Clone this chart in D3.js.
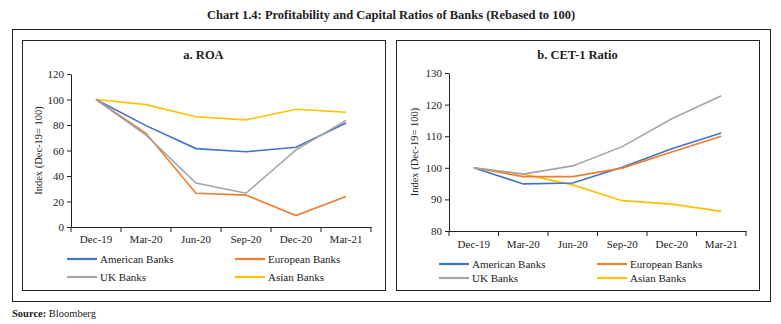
<!DOCTYPE html>
<html>
<head>
<meta charset="utf-8">
<script src="https://cdn.jsdelivr.net/npm/d3@7"></script>
<style>
  body { margin: 0; background: #fff; }
  text { font-family: "Liberation Serif", "DejaVu Serif", serif; fill: #222; }
</style>
</head>
<body>
<div class="chart"></div>
<script>
const quarters = ["Dec-19", "Mar-20", "Jun-20", "Sep-20", "Dec-20", "Mar-21"];
const seriesNames = ["American Banks", "European Banks", "UK Banks", "Asian Banks"];

// a. ROA
const roaAmerican = [100, 79.5, 61.5, 59, 62.5, 81.5];
const roaEuropean = [100, 73.5, 26.5, 25, 9, 24];
const roaUK = [100, 72, 34.5, 26.5, 60.5, 83.5];
const roaAsian = [100, 96, 86.5, 84, 92.3, 90];
const roaTicks = [0, 20, 40, 60, 80, 100, 120];

// b. CET-1 Ratio
const cetAmerican = [100, 94.9, 95.2, 100.2, 106, 111];
const cetEuropean = [100, 97.2, 97.2, 99.9, 105, 110];
const cetUK = [100, 98, 100.6, 106.7, 115.5, 122.8];
const cetAsian = [100, 98, 94.6, 89.6, 88.5, 86.2];
const cetTicks = [80, 90, 100, 110, 120, 130];

const colors = ["#4472C4", "#ED7D31", "#A5A5A5", "#FFC000"];

const width = 781;
const height = 324;

const svg = d3.select(".chart")
    .append("svg")
    .attr("width", width)
    .attr("height", height);

svg.append("text")
    .attr("x", 391)
    .attr("y", 19)
    .attr("text-anchor", "middle")
    .style("font-size", "12.5px")
    .style("font-weight", "bold")
    .text("Chart 1.4: Profitability and Capital Ratios of Banks (Rebased to 100)");

// outer frame
svg.append("rect")
    .attr("x", 12.5).attr("y", 29.5)
    .attr("width", 758).attr("height", 272)
    .style("fill", "none").style("stroke", "#222").style("stroke-width", 1);

svg.append("text")
    .attr("x", 12)
    .attr("y", 317)
    .style("font-size", "10.5px")
    .html("<tspan font-weight='bold'>Source:</tspan> Bloomberg");

function drawPanel(p) {
  const g = svg.append("g");

  g.append("rect")
      .attr("x", p.box[0] + 0.5).attr("y", p.box[1] + 0.5)
      .attr("width", p.box[2]).attr("height", p.box[3])
      .style("fill", "none").style("stroke", "#222").style("stroke-width", 1);

  g.append("text")
      .attr("x", p.box[0] + p.box[2] / 2)
      .attr("y", 59)
      .attr("text-anchor", "middle")
      .style("font-size", "12.5px")
      .style("font-weight", "bold")
      .text(p.title);

  const x = d3.scaleBand()
      .domain(quarters)
      .range([p.x0, p.x1]);

  const y = d3.scaleLinear()
      .domain(p.domain)
      .range([p.yBottom, p.yTop]);

  // y axis
  const yAxis = g.append("g")
      .attr("transform", "translate(" + p.x0 + ",0)")
      .call(d3.axisLeft(y).tickValues(p.ticks).tickSize(4).tickSizeOuter(0));
  yAxis.select(".domain").style("stroke", "#222");
  yAxis.selectAll("line").style("stroke", "#222");
  yAxis.selectAll("text")
      .style("font-size", "11px")
      .style("font-family", "'Liberation Serif', serif")
      .attr("fill", "#222");

  // x axis with ticks between categories
  const xAxis = g.append("g")
      .attr("transform", "translate(0," + p.yBottom + ")")
      .call(d3.axisBottom(x).tickSize(0).tickPadding(p.tickPad));
  xAxis.select(".domain").style("stroke", "#222");
  xAxis.selectAll("text")
      .style("font-size", "11px")
      .style("font-family", "'Liberation Serif', serif")
      .attr("fill", "#222");
  g.selectAll(".xtick")
      .data(d3.range(quarters.length + 1))
      .enter()
      .append("line")
      .attr("x1", function(i) { return p.x0 + i * x.step(); })
      .attr("x2", function(i) { return p.x0 + i * x.step(); })
      .attr("y1", p.yBottom)
      .attr("y2", p.yBottom + 5)
      .style("stroke", "#222");

  // y label
  g.append("text")
      .attr("transform", "translate(" + p.labelX + "," + (p.yTop + p.yBottom) / 2 + ") rotate(-90)")
      .attr("text-anchor", "middle")
      .style("font-size", "10.5px")
      .text("Index (Dec-19= 100)");

  const line = d3.line()
      .x(function(d, i) { return x(quarters[i]) + x.bandwidth() / 2; })
      .y(function(d) { return y(d); });

  // draw so asian is below, grey over orange as in picture
  const order = [3, 0, 1, 2];
  order.forEach(function(k) {
    g.append("path")
        .datum(p.series[k])
        .attr("d", line)
        .style("fill", "none")
        .style("stroke", colors[k])
        .style("stroke-width", 1.6);
  });

  // legend
  const leg = g.selectAll(".leg")
      .data(seriesNames)
      .enter()
      .append("g")
      .attr("transform", function(d, i) {
        return "translate(" + (p.legX[i % 2]) + "," + p.legY[Math.floor(i / 2)] + ")";
      });
  leg.append("line")
      .attr("x1", 0).attr("x2", 30)
      .style("stroke", function(d, i) { return colors[i]; })
      .style("stroke-width", 2.2);
  leg.append("text")
      .attr("x", 33)
      .attr("dy", "0.35em")
      .style("font-size", "11px")
      .text(function(d) { return d; });
}

drawPanel({
  box: [22, 40, 363, 250],
  title: "a. ROA",
  x0: 71, x1: 371,
  yTop: 74, yBottom: 227,
  domain: [0, 120],
  ticks: roaTicks,
  tickPad: 8,
  labelX: 42,
  series: [roaAmerican, roaEuropean, roaUK, roaAsian],
  legX: [67, 235],
  legY: [259, 277]
});

drawPanel({
  box: [396, 40, 363, 250],
  title: "b. CET-1 Ratio",
  x0: 449, x1: 746,
  yTop: 73, yBottom: 231,
  domain: [80, 130],
  ticks: cetTicks,
  tickPad: 9,
  labelX: 418,
  series: [cetAmerican, cetEuropean, cetUK, cetAsian],
  legX: [439, 597],
  legY: [264, 278]
});
</script>
</body>
</html>
